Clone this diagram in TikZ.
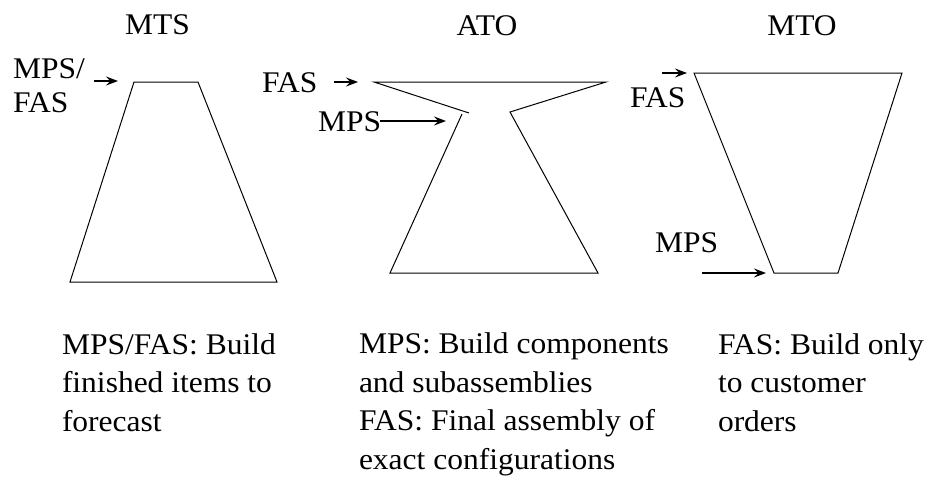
\documentclass[tikz,border=0pt]{standalone}
\usepackage{fontspec}
\setmainfont[FakeStretch=1.05]{Liberation Serif}
\usetikzlibrary{arrows.meta}
\tikzset{
  lbl/.style={anchor=base west, inner sep=0pt, outer sep=0pt},
  ttl/.style={anchor=base, inner sep=0pt, outer sep=0pt},
  desc/.style={anchor=base west, inner sep=0pt, outer sep=0pt, align=left},
  outline/.style={line width=1pt, line join=miter},
  feed/.style={line width=1.1pt, -{Stealth[length=12pt, width=9pt, inset=4.5pt]}}
}
\begin{document}
\begin{tikzpicture}[x=1pt, y=-1pt, font=\fontsize{30}{38.5}\selectfont]
\useasboundingbox (0,0) rectangle (934,477);
% titles
\node[ttl] (tmts) at (157.5,34) {MTS};
\node[ttl] (tato) at (487,35) {ATO};
\node[ttl] (tmto) at (802,35) {MTO};
% MTS shape
\coordinate (s1) at (134,82);
\coordinate (s2) at (198,82);
\coordinate (s3) at (277,282);
\coordinate (s4) at (70,282);
\draw[outline] (s1) -- (s2) -- (s3) -- (s4) -- cycle;
\node[lbl] (mtsmps) at (13,78) {MPS/};
\node[lbl] (mtsfas) at (13,112) {FAS};
\coordinate (mtsa) at (94,81);
\coordinate (mtsb) at (118,81);
\draw[feed] (mtsa) -- (mtsb);
% ATO shape
\coordinate (a1) at (374,82);
\coordinate (a2) at (606,82);
\coordinate (a3) at (510,112);
\coordinate (a4) at (469,113);
\coordinate (a5) at (462,114);
\coordinate (a6) at (390,273);
\coordinate (a7) at (598,273);
\draw[outline] (a4) -- (a1) -- (a2) -- (a3) -- (a7) -- (a6) -- (a5);
\node[lbl] (atofas) at (262,92) {FAS};
\node[lbl] (atomps) at (318,131) {MPS};
\coordinate (atofa) at (334,82);
\coordinate (atofb) at (358,82);
\draw[feed] (atofa) -- (atofb);
\coordinate (atoma) at (380,121);
\coordinate (atomb) at (446,121);
\draw[feed] (atoma) -- (atomb);
% MTO shape
\coordinate (m1) at (694,73);
\coordinate (m2) at (902,73);
\coordinate (m3) at (838,273);
\coordinate (m4) at (774,273);
\draw[outline] (m1) -- (m2) -- (m3) -- (m4) -- cycle;
\node[lbl] (mtofas) at (630,107) {FAS};
\node[lbl] (mtomps) at (655,252) {MPS};
\coordinate (mtofa) at (662,73);
\coordinate (mtofb) at (687,73);
\draw[feed] (mtofa) -- (mtofb);
\coordinate (mtoma) at (702,273);
\coordinate (mtomb) at (766,273);
\draw[feed] (mtoma) -- (mtomb);
% descriptions (base anchor = baseline of last line)
\node[desc] (dmts) at (62,431) {MPS/FAS: Build\\finished items to\\forecast};
\node[desc] (dato) at (359,469) {MPS: Build components\\and subassemblies\\FAS: Final assembly of\\exact configurations};
\node[desc] (dmto) at (718,431) {FAS: Build only\\to customer\\orders};
\end{tikzpicture}
\end{document}
